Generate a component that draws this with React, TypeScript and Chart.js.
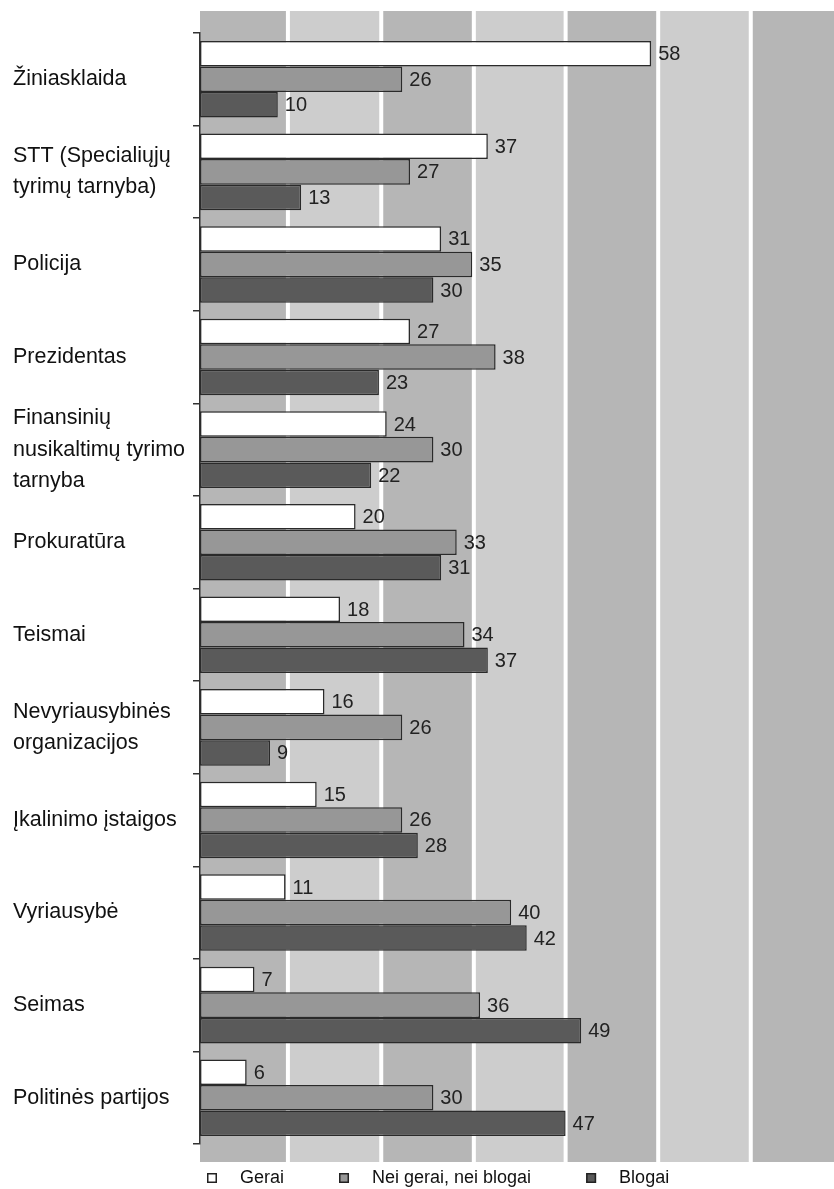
import React, { useEffect, useRef } from "react";
import { Chart, registerables } from "chart.js";

Chart.register(...registerables);

const categories: (string | string[])[] = [
  "Žiniasklaida",
  ["STT (Specialiųjų", "tyrimų tarnyba)"],
  "Policija",
  "Prezidentas",
  ["Finansinių", "nusikaltimų tyrimo", "tarnyba"],
  "Prokuratūra",
  "Teismai",
  ["Nevyriausybinės", "organizacijos"],
  "Įkalinimo įstaigos",
  "Vyriausybė",
  "Seimas",
  "Politinės partijos",
];

const seriesNames = ["Gerai", "Nei gerai, nei blogai", "Blogai"];
const gerai = [58, 37, 31, 27, 24, 20, 18, 16, 15, 11, 7, 6];
const neiGeraiNeiBlogai = [26, 27, 35, 38, 30, 33, 34, 26, 26, 40, 36, 30];
const blogai = [10, 13, 30, 23, 22, 31, 37, 9, 28, 42, 49, 47];

const axisMax = 81.5;
const gridValues = [11.3, 23.3, 35.2, 47.0, 58.9, 70.8];

const FONT = '"Liberation Sans", Arial, Helvetica, sans-serif';
const seriesColors = ["#ffffff", "#979797", "#5a5a5a"];
const bandDark = "#b6b6b6";
const bandLight = "#cdcdcd";

const bandsPlugin = {
  id: "bands",
  beforeDraw(chart: any) {
    const { ctx, chartArea, scales } = chart;
    const x = scales.x;
    const top = chartArea.top - 22;
    const bottom = chartArea.bottom + 18;
    const edges = [0, ...gridValues, axisMax];
    ctx.save();
    for (let i = 0; i < edges.length - 1; i++) {
      const x0 = x.getPixelForValue(edges[i]);
      const x1 = x.getPixelForValue(edges[i + 1]);
      ctx.fillStyle = i % 2 === 0 ? bandDark : bandLight;
      ctx.fillRect(x0, top, x1 - x0, bottom - top);
    }
    ctx.fillStyle = "#ffffff";
    gridValues.forEach((v) => {
      const px = x.getPixelForValue(v);
      ctx.fillRect(px - 2, top, 4, bottom - top);
    });
    ctx.restore();
  },
};

const valueLabelsPlugin = {
  id: "valueLabels",
  afterDatasetsDraw(chart: any) {
    const { ctx } = chart;
    ctx.save();
    ctx.font = `20px ${FONT}`;
    ctx.fillStyle = "#222";
    ctx.textAlign = "left";
    ctx.textBaseline = "middle";
    chart.data.datasets.forEach((ds: any, di: number) => {
      const meta = chart.getDatasetMeta(di);
      meta.data.forEach((el: any, i: number) => {
        ctx.fillText(String(ds.data[i]), el.x + 7, el.y + 1);
      });
    });
    ctx.restore();
  },
};

const legendPlugin = {
  id: "customLegend",
  afterDraw(chart: any) {
    const { ctx } = chart;
    const y = chart.height - 11;
    let x = 207;
    ctx.save();
    ctx.font = `18px ${FONT}`;
    ctx.textBaseline = "middle";
    ctx.textAlign = "left";
    chart.data.datasets.forEach((ds: any) => {
      ctx.fillStyle = ds.backgroundColor;
      ctx.fillRect(x, y - 5, 10, 10);
      ctx.strokeStyle = "#222";
      ctx.lineWidth = 1.5;
      ctx.strokeRect(x + 0.75, y - 4.25, 8.5, 8.5);
      ctx.fillStyle = "#111";
      ctx.fillText(ds.label, x + 33, y);
      x += 33 + ctx.measureText(ds.label).width + 55;
    });
    ctx.restore();
  },
};

export default function App() {
  const ref = useRef<HTMLCanvasElement | null>(null);

  useEffect(() => {
    if (!ref.current) return;
    const seriesData = [gerai, neiGeraiNeiBlogai, blogai];
    const chart = new Chart(ref.current, {
      type: "bar",
      data: {
        labels: categories,
        datasets: seriesNames.map((name, i) => ({
          label: name,
          data: seriesData[i],
          backgroundColor: seriesColors[i],
          borderColor: "#2a2a2a",
          borderWidth: 1.5,
          borderSkipped: false,
          categoryPercentage: 0.828,
          barPercentage: 1.0,
        })),
      },
      options: {
        indexAxis: "y",
        responsive: false,
        animation: false,
        layout: { padding: { left: 13, top: 33, bottom: 45, right: 0 } },
        plugins: {
          legend: { display: false },
          tooltip: { enabled: false },
        },
        scales: {
          x: { display: false, min: 0, max: axisMax },
          y: {
            type: "category",
            position: "left",
            grid: {
              offset: true,
              drawOnChartArea: false,
              drawTicks: true,
              tickLength: 7,
              color: "#333",
              lineWidth: 1.5,
            },
            border: { display: true, color: "#333", width: 1.5 },
            ticks: {
              crossAlign: "far",
              padding: 0,
              color: "#111",
              autoSkip: false,
              font: { size: 21.5, family: FONT, lineHeight: 1.45 },
            },
            afterFit: (s: any) => {
              s.width = 187;
            },
          },
        },
      },
      plugins: [bandsPlugin, valueLabelsPlugin, legendPlugin],
    } as any);
    return () => chart.destroy();
  }, []);

  return (
    <div style={{ position: "absolute", left: 0, top: 0, width: 834, height: 1189 }}>
      <canvas ref={ref} width={834} height={1189} />
    </div>
  );
}
